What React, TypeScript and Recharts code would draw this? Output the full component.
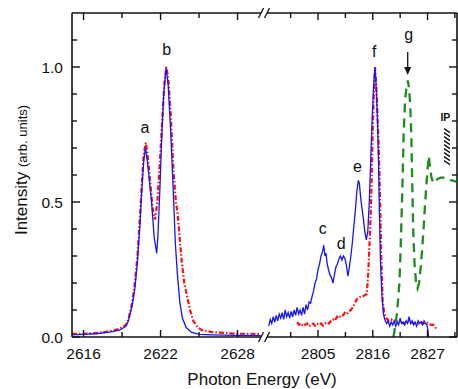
import { LineChart, Line, XAxis, YAxis, ReferenceLine, ReferenceDot, Label } from 'recharts'

const FONT = '"Liberation Sans", Arial, Helvetica, sans-serif'
const INK = '#111'
const BLUE = '#1414ff'
const RED = '#ff1010'
const GREEN = '#1e8c1e'

// plot box in page pixels
const PLOT_TOP = 13
const PLOT_RIGHT = 457

// broken x axis: two energy windows with their own eV-per-pixel scale
const LEFT_START = 2615.1
const LEFT_END = 2630.18
const RIGHT_START = 2794.45
const LEFT_SCALE = 12.833
const RIGHT_SCALE = 4.977
const BREAK_U = (LEFT_END - LEFT_START) * LEFT_SCALE
const U_MAX = 385

const toU = (e: number) =>
  e <= LEFT_END ? (e - LEFT_START) * LEFT_SCALE : BREAK_U + (e - RIGHT_START) * RIGHT_SCALE
const fromU = (u: number) =>
  u <= BREAK_U ? LEFT_START + u / LEFT_SCALE : RIGHT_START + (u - BREAK_U) / RIGHT_SCALE

const xMajorTicks = [2616, 2622, 2628, 2805, 2816, 2827]
const xMinorTicks = [2619, 2625, 2799.5, 2810.5, 2821.5, 2832.5]
const yTicks = [0, 0.1, 0.2, 0.3, 0.4, 0.5, 0.6, 0.7, 0.8, 0.9, 1.0, 1.1]
const yMajorTicks = [0, 0.5, 1.0]

// [photon energy (eV), intensity]
const blueLeft: [number, number][] = [
  [2615.1, 0.008], [2616, 0.01], [2617, 0.012], [2618, 0.018], [2618.8, 0.025], [2619.3, 0.04],
  [2619.5, 0.06], [2619.8, 0.12], [2620.0, 0.18], [2620.2, 0.28], [2620.4, 0.42], [2620.55, 0.55],
  [2620.7, 0.66], [2620.83, 0.7], [2621.0, 0.64], [2621.15, 0.57], [2621.3, 0.5], [2621.5, 0.37],
  [2621.7, 0.31], [2621.8, 0.38], [2621.95, 0.55], [2622.1, 0.75], [2622.25, 0.9], [2622.43, 0.997],
  [2622.6, 0.93], [2622.8, 0.75], [2623.0, 0.53], [2623.15, 0.35], [2623.3, 0.24], [2623.5, 0.13],
  [2623.7, 0.07], [2624.0, 0.035], [2624.4, 0.018], [2625, 0.01], [2626, 0.008], [2627, 0.007],
  [2628, 0.006], [2629, 0.006], [2629.8, 0.005],
]

const redLeft: [number, number][] = [
  [2615.1, 0.012], [2616, 0.012], [2617, 0.015], [2618, 0.02], [2618.8, 0.03], [2619.3, 0.045],
  [2619.5, 0.065], [2619.8, 0.13], [2620.0, 0.2], [2620.2, 0.3], [2620.4, 0.45], [2620.55, 0.58],
  [2620.7, 0.68], [2620.85, 0.72], [2621.0, 0.67], [2621.2, 0.57], [2621.4, 0.47], [2621.57, 0.435],
  [2621.75, 0.5], [2621.95, 0.65], [2622.15, 0.82], [2622.3, 0.94], [2622.45, 1.0], [2622.6, 0.96],
  [2622.8, 0.82], [2623.0, 0.62], [2623.2, 0.5], [2623.35, 0.45], [2623.5, 0.36], [2623.65, 0.28],
  [2623.85, 0.2], [2624.05, 0.155], [2624.3, 0.1], [2624.55, 0.06], [2624.9, 0.035], [2625.2, 0.026],
  [2626, 0.018], [2627, 0.015], [2628, 0.012], [2629, 0.012], [2629.8, 0.01],
]

const blueRight: [number, number][] = [
  [2795.1, 0.04], [2795.4, 0.065], [2795.7, 0.05], [2796.0, 0.075], [2796.3, 0.055], [2796.6, 0.08],
  [2796.9, 0.06], [2797.2, 0.085], [2797.5, 0.07], [2797.8, 0.09], [2798.1, 0.065], [2798.4, 0.1],
  [2798.7, 0.075], [2799.0, 0.09], [2799.3, 0.07], [2799.6, 0.095], [2799.9, 0.075], [2800.2, 0.1],
  [2800.5, 0.08], [2800.8, 0.11], [2801.1, 0.085], [2801.4, 0.1], [2801.7, 0.08], [2802.0, 0.11],
  [2802.3, 0.085], [2802.6, 0.12], [2802.9, 0.1], [2803.2, 0.13], [2803.5, 0.125], [2803.8, 0.15],
  [2804.1, 0.17], [2804.4, 0.2], [2804.7, 0.215], [2805.0, 0.25], [2805.3, 0.27], [2805.6, 0.3],
  [2805.9, 0.315], [2806.15, 0.34], [2806.4, 0.3], [2806.6, 0.31], [2806.85, 0.27], [2807.1, 0.25],
  [2807.4, 0.23], [2807.7, 0.22], [2808.0, 0.2], [2808.3, 0.23], [2808.6, 0.26], [2808.9, 0.27],
  [2809.2, 0.29], [2809.5, 0.3], [2809.8, 0.285], [2810.1, 0.3], [2810.4, 0.29], [2810.7, 0.265],
  [2811.0, 0.225], [2811.3, 0.26], [2811.6, 0.3], [2811.9, 0.35], [2812.2, 0.41], [2812.5, 0.47],
  [2812.8, 0.54], [2813.1, 0.58], [2813.3, 0.57], [2813.55, 0.52], [2813.8, 0.48], [2814.1, 0.44],
  [2814.4, 0.39], [2814.7, 0.36], [2815.0, 0.39], [2815.3, 0.5], [2815.6, 0.66], [2815.9, 0.82],
  [2816.2, 0.94], [2816.45, 1.0], [2816.7, 0.92], [2816.95, 0.8], [2817.15, 0.65], [2817.35, 0.45],
  [2817.55, 0.28], [2817.8, 0.17], [2818.1, 0.09], [2818.4, 0.065], [2818.8, 0.05], [2819.1, 0.06],
  [2819.4, 0.04], [2819.7, 0.055], [2820.0, 0.045], [2820.3, 0.06], [2820.6, 0.04], [2820.9, 0.055],
  [2821.2, 0.045], [2821.5, 0.07], [2821.8, 0.05], [2822.1, 0.055], [2822.4, 0.045], [2822.7, 0.06],
  [2823.0, 0.05], [2823.3, 0.075], [2823.6, 0.05], [2823.9, 0.06], [2824.2, 0.045], [2824.5, 0.055],
  [2824.8, 0.04], [2825.1, 0.06], [2825.4, 0.05], [2825.7, 0.055], [2826.0, 0.045], [2826.3, 0.06],
  [2826.6, 0.05], [2826.9, 0.045], [2827.1, 0.02], [2827.2, 0.0],
]

const redRight: [number, number][] = [
  [2800.8, 0.055], [2801.2, 0.045], [2801.6, 0.05], [2802.0, 0.04], [2802.4, 0.045], [2802.8, 0.05],
  [2803.2, 0.04], [2803.6, 0.045], [2804.0, 0.05], [2804.4, 0.042], [2804.8, 0.05], [2805.2, 0.045],
  [2805.6, 0.05], [2806.0, 0.042], [2806.4, 0.05], [2806.8, 0.055], [2807.2, 0.05], [2807.6, 0.06],
  [2808.0, 0.065], [2808.4, 0.06], [2808.8, 0.075], [2809.2, 0.07], [2809.6, 0.08], [2810.0, 0.08],
  [2810.4, 0.09], [2810.8, 0.085], [2811.2, 0.095], [2811.6, 0.1], [2812.0, 0.11], [2812.4, 0.125],
  [2812.8, 0.14], [2813.2, 0.145], [2813.6, 0.15], [2814.0, 0.15], [2814.4, 0.155], [2814.8, 0.16],
  [2815.1, 0.24], [2815.4, 0.37], [2815.7, 0.52], [2816.0, 0.78], [2816.25, 0.93], [2816.45, 1.0],
  [2816.7, 0.93], [2816.95, 0.82], [2817.2, 0.7], [2817.45, 0.52], [2817.7, 0.3], [2818.0, 0.13],
  [2818.3, 0.09], [2818.7, 0.07], [2819.2, 0.06], [2819.7, 0.065], [2820.2, 0.055], [2820.7, 0.06],
  [2821.2, 0.055], [2821.7, 0.06], [2822.2, 0.05], [2822.7, 0.055], [2823.2, 0.06], [2823.7, 0.055],
  [2824.2, 0.05], [2824.7, 0.055], [2825.2, 0.05], [2825.7, 0.055], [2826.2, 0.05], [2826.7, 0.055],
  [2827.2, 0.05], [2827.7, 0.045], [2828.2, 0.045], [2828.6, 0.035], [2828.9, 0.025],
]

const greenRight: [number, number][] = [
  [2820.15, 0.0], [2820.5, 0.04], [2820.8, 0.08], [2821.1, 0.14], [2821.35, 0.2], [2821.55, 0.3],
  [2821.75, 0.42], [2821.95, 0.55], [2822.2, 0.75], [2822.5, 0.88], [2822.8, 0.93], [2823.05, 0.95],
  [2823.3, 0.92], [2823.55, 0.85], [2823.75, 0.74], [2823.95, 0.55], [2824.15, 0.38], [2824.4, 0.27],
  [2824.7, 0.2], [2825.0, 0.18], [2825.3, 0.2], [2825.6, 0.25], [2825.9, 0.32], [2826.2, 0.4],
  [2826.5, 0.49], [2826.8, 0.57], [2827.05, 0.63], [2827.25, 0.67], [2827.5, 0.63], [2827.8, 0.59],
  [2828.2, 0.57], [2828.6, 0.575], [2829.0, 0.585], [2829.6, 0.59], [2830.2, 0.59], [2830.8, 0.585],
  [2831.4, 0.58], [2832.0, 0.58], [2832.75, 0.575],
]

// peak letters: [label, energy, baseline intensity]
const peakLabels: [string, number, number][] = [
  ['a', 2620.79, 0.756], ['b', 2622.48, 1.044], ['c', 2805.94, 0.382], ['d', 2809.66, 0.326],
  ['e', 2812.9, 0.612], ['f', 2816.29, 1.036], ['g', 2823.22, 1.1],
]
const arrowTip: [number, number] = [2823.02, 0.97]
const ipMark: [number, number] = [2830.92, 0.705]
const ipLabel: [number, number] = [2830.58, 0.801]

const toRows = (pts: [number, number][]) => pts.map(([e, v]) => ({ u: toU(e), v }))

function XTick(props: any) {
  const { x, y, payload } = props
  const e = fromU(payload.value)
  const major = xMajorTicks.some((t) => Math.abs(t - e) < 0.05)
  const len = major ? 7 : 5
  return (
    <g>
      <line x1={x} x2={x} y1={y} y2={y - len} stroke={INK} strokeWidth={1.4} />
      <line x1={x} x2={x} y1={PLOT_TOP} y2={PLOT_TOP + len} stroke={INK} strokeWidth={1.4} />
      {major && (
        <text x={x} y={y + 21.5} textAnchor="middle" fontSize={15.5} fontFamily={FONT} fill={INK}>
          {Math.round(e)}
        </text>
      )}
    </g>
  )
}

function YTick(props: any) {
  const { x, y, payload } = props
  const major = yMajorTicks.some((t) => Math.abs(t - payload.value) < 0.001)
  const len = major ? 8 : 5
  return (
    <g>
      <line x1={x} x2={x + len} y1={y} y2={y} stroke={INK} strokeWidth={1.4} />
      <line x1={PLOT_RIGHT} x2={PLOT_RIGHT - len} y1={y} y2={y} stroke={INK} strokeWidth={1.4} />
      {major && (
        <text x={x - 9} y={y + 5.5} textAnchor="end" fontSize={15.5} fontFamily={FONT} fill={INK}>
          {payload.value.toFixed(1)}
        </text>
      )}
    </g>
  )
}

function BreakMark(props: any) {
  const { cx, cy } = props
  return (
    <g>
      <line x1={cx - 4.5} x2={cx + 1.5} y1={cy} y2={cy} stroke="#fff" strokeWidth={4} />
      <line x1={cx - 7} y1={cy + 5} x2={cx - 2} y2={cy - 5} stroke={INK} strokeWidth={1.3} />
      <line x1={cx - 1} y1={cy + 5} x2={cx + 4} y2={cy - 5} stroke={INK} strokeWidth={1.3} />
    </g>
  )
}

function Arrow(props: any) {
  const { cx, cy } = props
  return (
    <g>
      <line x1={cx} x2={cx} y1={cy - 23} y2={cy - 6} stroke={INK} strokeWidth={1.3} />
      <path d={`M${cx - 3.5},${cy - 8} L${cx + 3.5},${cy - 8} L${cx},${cy} Z`} fill={INK} />
    </g>
  )
}

function Hatch(props: any) {
  const { cx, cy } = props
  const rows = [-16, -12, -8, -4, 0, 4, 8, 12, 16]
  return (
    <g>
      {rows.map((d) => (
        <line key={d} x1={cx - 3} y1={cy + d - 2} x2={cx + 3} y2={cy + d + 2} stroke={INK} strokeWidth={1.3} />
      ))}
    </g>
  )
}

const letter = (text: string, size: number, bold = false) => (props: any) => (
  <text x={props.cx} y={props.cy} textAnchor="middle" fontSize={size} fontWeight={bold ? 700 : 400} fontFamily={FONT} fill={INK}>
    {text}
  </text>
)

export default function App() {
  const ticks = [...xMajorTicks, ...xMinorTicks].sort((a, b) => a - b).map(toU)
  return (
    <div style={{ position: 'absolute', left: 0, top: 0, width: 458, height: 389, background: '#fff' }}>
      <LineChart width={458} height={389} margin={{ top: PLOT_TOP, right: 1, bottom: 0, left: 0 }}>
        <XAxis
          dataKey="u"
          type="number"
          domain={[0, U_MAX]}
          allowDataOverflow
          ticks={ticks}
          interval={0}
          tick={<XTick />}
          tickLine={false}
          tickSize={0}
          tickMargin={0}
          height={52}
          axisLine={{ stroke: INK, strokeWidth: 1.6 }}
        >
          <Label
            content={() => (
              <text x={262} y={384.5} textAnchor="middle" fontSize={17} fontFamily={FONT} fill={INK}>
                Photon Energy (eV)
              </text>
            )}
          />
        </XAxis>
        <YAxis
          type="number"
          domain={[0, 1.2]}
          allowDataOverflow
          ticks={yTicks}
          interval={0}
          tick={<YTick />}
          tickLine={false}
          tickSize={0}
          tickMargin={0}
          width={72}
          axisLine={{ stroke: INK, strokeWidth: 1.6 }}
        >
          <Label
            content={() => (
              <text x={27} y={170} textAnchor="middle" fontFamily={FONT} fill={INK} transform="rotate(-90 27 170)">
                <tspan fontSize={17}>Intensity </tspan>
                <tspan fontSize={13}>(arb. units)</tspan>
              </text>
            )}
          />
        </YAxis>
        <ReferenceLine y={1.2} stroke={INK} strokeWidth={1.6} ifOverflow="visible" />
        <ReferenceLine x={U_MAX} stroke={INK} strokeWidth={1.6} ifOverflow="visible" />

        <Line data={toRows(redLeft)} dataKey="v" type="linear" stroke={RED} strokeWidth={2.2} strokeDasharray="5 2 1.5 2" dot={false} isAnimationActive={false} />
        <Line data={toRows(blueLeft)} dataKey="v" type="linear" stroke={BLUE} strokeWidth={1.3} dot={false} isAnimationActive={false} />
        <Line data={toRows(redRight)} dataKey="v" type="linear" stroke={RED} strokeWidth={2.2} strokeDasharray="5 2 1.5 2" dot={false} isAnimationActive={false} />
        <Line data={toRows(blueRight)} dataKey="v" type="linear" stroke={BLUE} strokeWidth={1.3} dot={false} isAnimationActive={false} />
        <Line data={toRows(greenRight)} dataKey="v" type="linear" stroke={GREEN} strokeWidth={2.3} strokeDasharray="9 6" dot={false} isAnimationActive={false} />

        <ReferenceDot x={BREAK_U} y={0} r={0} ifOverflow="visible" shape={<BreakMark />} />
        <ReferenceDot x={BREAK_U} y={1.2} r={0} ifOverflow="visible" shape={<BreakMark />} />

        {peakLabels.map(([t, e, v]) => (
          <ReferenceDot key={t} x={toU(e)} y={v} r={0} ifOverflow="visible" shape={letter(t, 16)} />
        ))}
        <ReferenceDot x={toU(arrowTip[0])} y={arrowTip[1]} r={0} ifOverflow="visible" shape={<Arrow />} />
        <ReferenceDot x={toU(ipMark[0])} y={ipMark[1]} r={0} ifOverflow="visible" shape={<Hatch />} />
        <ReferenceDot x={toU(ipLabel[0])} y={ipLabel[1]} r={0} ifOverflow="visible" shape={letter('IP', 10.5, true)} />
      </LineChart>
    </div>
  )
}
